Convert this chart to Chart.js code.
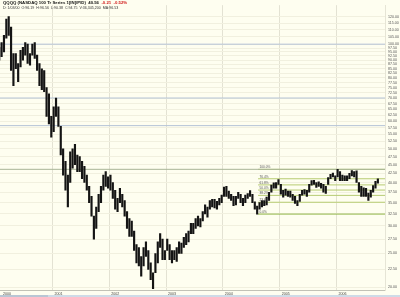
<!DOCTYPE html>
<html>
<head>
<meta charset="utf-8">
<script src="https://cdn.jsdelivr.net/npm/chart.js@4.4.0/dist/chart.umd.min.js"></script>
<style>
  html, body { margin: 0; padding: 0; background: #fefef0; }
  #wrap { position: relative; width: 400px; height: 297px; overflow: hidden; background: #fefef0; }
  canvas { position: absolute; left: 0; top: 0; }
  .head { position: absolute; left: 3px; font-family: "Liberation Sans", Arial, sans-serif; white-space: nowrap; color: #111; line-height: 1; }
  #h1 { top: 1px; font-size: 4.3px; font-weight: bold; }
  #h2 { top: 6.5px; font-size: 3.6px; color: #333; }
  .dn { color: #d01818; }
  #scroll { position: absolute; left: 0; top: 295px; width: 400px; height: 2px; background: #cfdbe7; }
  #thumb { position: absolute; left: 0; top: 295px; width: 48px; height: 2px; background: #b9c6d4; }
</style>
</head>
<body>
<div id="wrap">
  <canvas id="chart" width="400" height="297"></canvas>
  <div class="head" id="h1">QQQQ (NASDAQ 100 Tr Series 1[IN]/PID) &nbsp;40.56 &nbsp;<span class="dn">-0.21 &nbsp;-0.52%</span></div>
  <div class="head" id="h2">D: 1/03/00 &nbsp;O:96.19 &nbsp;H:96.56 &nbsp;L:90.38 &nbsp;C:94.75 &nbsp;V:36,345,200 &nbsp;MA:96.53</div>
  <div id="scroll"></div>
  <div id="thumb"></div>
</div>
<script>
// QQQQ, two bars a month (1st and 2nd half), Jan 2000 .. Sep 2006
const startYear = 2000;
const periodsPerYear = 24;

const periodLows = [
  // 2000
  88, 90, 92, 95, 104, 106, 84, 76, 85, 78, 86, 90, 93, 88, 87, 93, 91, 84, 76, 74, 73, 62, 59, 54,
  // 2001
  56, 62, 58, 48, 42, 38, 34, 40, 44, 45, 43, 43, 41, 40, 38, 35, 32, 27.5, 29.5, 33, 35, 38, 39, 38.5,
  // 2002
  38, 36, 33.5, 33, 35, 34, 32, 29.5, 28, 28, 25.5, 23.5, 23, 21.5, 23, 24.5, 22.5, 21, 19.8, 22, 23.5, 26, 24, 24,
  // 2003
  25.5, 24, 23.5, 24, 23.7, 25, 25, 26, 26.5, 27, 28.5, 28.5, 29.5, 30, 29.8, 31, 32.5, 31.8, 33.5, 34, 33.8, 33.5, 34.5, 35,
  // 2004
  36.5, 36.5, 36, 35.5, 34.3, 34.5, 36, 35, 34.3, 35, 36, 36.5, 35, 33.5, 32.45, 33.5, 34, 34.3, 34.5, 35.5, 37.5, 38.5, 38.5, 39.5,
  // 2005
  37, 36.3, 36.8, 36.5, 36.3, 35.5, 34.8, 34.3, 35.3, 36.8, 37, 36.5, 37.5, 39.3, 39.5, 38.7, 39, 38.5, 37.5, 37.2, 39.5, 41, 41.5, 40.5,
  // 2006
  41.5, 40.5, 40.5, 40.5, 40.5, 41, 41.8, 41.5, 40, 37.5, 36.5, 36.5, 36.5, 35.5, 36.3, 37.5, 38.5, 39.8
];
const periodHighs = [
  // 2000
  97, 98, 101, 106, 118, 120, 112, 94, 94, 88, 96, 98, 101, 100, 94, 100, 101, 93, 88, 85, 84, 75, 72, 62,
  // 2001
  66, 70, 66, 58, 50, 46, 42, 49, 50, 51.5, 48, 47.5, 46, 44.5, 42, 39, 36.5, 32, 34, 37, 39, 42, 43, 41.5,
  // 2002
  42, 40, 38, 36, 38.5, 37, 35.5, 33, 31.5, 31, 29, 26.5, 26, 24.5, 26, 27, 25.5, 23.5, 22, 25, 27, 28.5, 27.5, 25.5,
  // 2003
  27.5, 26.5, 25.5, 25.5, 26, 27, 26.8, 27.8, 28.5, 29, 30.5, 30.5, 31.5, 32, 31.5, 33, 34.5, 34, 35.5, 35.8, 35.8, 35.3, 36, 36.8,
  // 2004
  38.8, 39, 37.8, 37, 36.5, 36.5, 37.5, 37, 36, 36.8, 37.2, 37.9, 37, 35.2, 34.2, 35, 35.5, 35.5, 36.3, 37.5, 39.3, 39.9, 40, 40.8,
  // 2005
  39.5, 38, 38.3, 37.8, 37.8, 37, 36.5, 35.5, 37, 38, 38.2, 38, 39.5, 40.5, 40.6, 40, 40.2, 39.8, 39.5, 39, 41.3, 42.2, 42.6, 41.8,
  // 2006
  43.65, 43, 42, 41.8, 41.8, 42.5, 43.3, 43, 43.2, 40, 39, 38.6, 38.5, 37.3, 38, 39.2, 40.3, 41
];

// axis ticks
const priceTicks = [20, 22.5, 25, 27.5, 30, 32.5, 35, 37.5, 40, 42.5, 45, 47.5, 50, 52.5, 55, 57.5, 60,
  62.5, 65, 67.5, 70, 72.5, 75, 77.5, 80, 82.5, 85, 87.5, 90, 92.5, 95, 97.5, 100, 105, 110, 115, 120];
const yearTicks = [2000, 2001, 2002, 2003, 2004, 2005, 2006];

// drawn lines
const levelLines = [100, 70, 58.3];
const resistance = 43.65;
const fibLow = 32.45;
const fibHigh = 43.65;
const fibLevels = [0, 23.6, 38.2, 50, 61.8, 76.4, 100];
const fibStart = 2004.62;

const xMin = 2000.076, xMax = 2006.855;
const yMin = 19.56, yMax = 129.5;

const bars = periodLows.map((lo, i) => ({ x: startYear + (i + 0.5) / periodsPerYear, y: [lo, periodHighs[i]] }));

const datasets = [{
  type: "bar",
  data: bars,
  backgroundColor: "#141414",
  borderWidth: 0,
  barThickness: 1.5
}];

levelLines.forEach(v => datasets.push({
  type: "line", data: [{ x: xMin, y: v }, { x: xMax, y: v }],
  borderColor: "#b4c3d6", borderWidth: 1, pointRadius: 0
}));
datasets.push({
  type: "line", data: [{ x: xMin, y: resistance }, { x: xMax, y: resistance }],
  borderColor: "#a9b596", borderWidth: 1, pointRadius: 0
});
fibLevels.forEach(f => {
  const p = fibLow + (fibHigh - fibLow) * f / 100;
  datasets.push({
    type: "line", data: [{ x: fibStart, y: p }, { x: xMax, y: p }],
    borderColor: f === 0 ? "#8fb548" : "#b7cb72", borderWidth: 1, pointRadius: 0
  });
});

const FONT = "Liberation Sans";

// year labels sit just right of the year lines, fib labels above each fib line
const labelPlugin = {
  id: "labels",
  afterDraw(chart) {
    const c = chart.ctx, xs = chart.scales.x, ys = chart.scales.y;
    c.save();
    c.fillStyle = "#444";
    c.font = "3.6px '" + FONT + "'";
    c.textBaseline = "top";
    c.textAlign = "left";
    yearTicks.forEach(yr => {
      const px = Math.max(xs.getPixelForValue(yr) + 2, 3);
      c.fillText(String(yr), px, chart.chartArea.bottom + 1.3);
    });
    c.fillStyle = "#555";
    c.font = "3.2px '" + FONT + "'";
    c.textBaseline = "bottom";
    const fx = xs.getPixelForValue(fibStart) + 1.5;
    fibLevels.forEach(f => {
      const p = fibLow + (fibHigh - fibLow) * f / 100;
      c.fillText(f.toFixed(1) + "%", fx, ys.getPixelForValue(p) - 0.5);
    });
    c.restore();
  }
};

new Chart(document.getElementById("chart"), {
  type: "bar",
  data: { datasets },
  options: {
    responsive: false,
    animation: false,
    devicePixelRatio: 1,
    layout: { padding: 0 },
    plugins: { legend: { display: false }, tooltip: { enabled: false } },
    scales: {
      x: {
        type: "linear",
        offset: false,
        min: xMin,
        max: xMax,
        afterBuildTicks: s => { s.ticks = yearTicks.map(v => ({ value: v })); },
        afterFit: s => { s.height = 6.5; },
        ticks: { display: false },
        grid: { color: "#e3e2d3", drawTicks: false, offset: false },
        border: { display: true, color: "#c2c2b6" }
      },
      y: {
        type: "logarithmic",
        position: "right",
        min: yMin,
        max: yMax,
        afterBuildTicks: s => { s.ticks = priceTicks.map(v => ({ value: v })); },
        afterFit: s => { s.width = 15; },
        ticks: {
          autoSkip: false,
          padding: 3,
          color: "#555",
          font: { family: FONT, size: 3.6 },
          callback: v => Number(v).toFixed(2)
        },
        grid: { color: "#f1f0df", drawTicks: false },
        border: { display: true, color: "#e6e5d6" }
      }
    }
  },
  plugins: [labelPlugin]
});
</script>
</body>
</html>
